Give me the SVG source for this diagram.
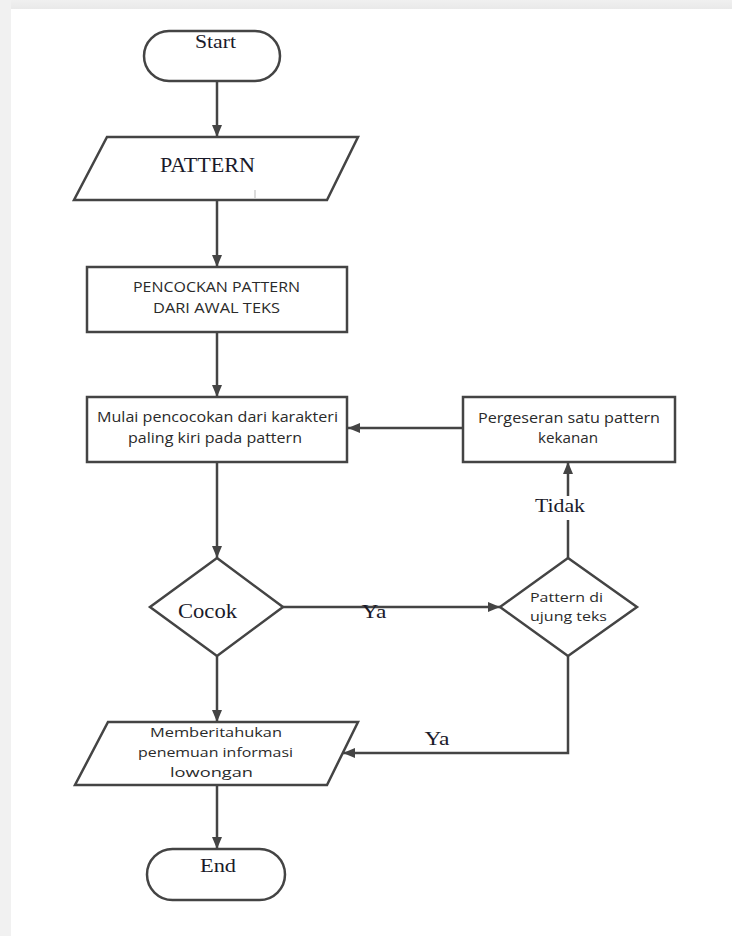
<svg xmlns="http://www.w3.org/2000/svg" width="732" height="936" viewBox="0 0 732 936">
  <defs>
    <style>
      .shape { fill: #ffffff; stroke: #444444; stroke-width: 2.5; stroke-linejoin: miter; }
      .conn { fill: none; stroke: #444444; stroke-width: 2.5; }
      .serif { font-family: "Liberation Serif", "DejaVu Serif", serif; fill: #1a1a2a; text-anchor: middle; }
      .sans { font-family: "Open Sans", "Liberation Sans", sans-serif; fill: #2a2a2a; text-anchor: middle; }
    </style>
    <marker id="arrow" viewBox="0 0 12 10" refX="12" refY="5" markerWidth="12" markerHeight="10" markerUnits="userSpaceOnUse" orient="auto">
      <path d="M0,0 L12,5 L0,10 Z" fill="#444444"/>
    </marker>
    <linearGradient id="topband" x1="0" y1="0" x2="0" y2="1">
      <stop offset="0" stop-color="#f0f0f0"/>
      <stop offset="1" stop-color="#e9e9e9"/>
    </linearGradient>
  </defs>

  <rect x="0" y="0" width="732" height="936" fill="#ffffff"/>
  <rect x="0" y="0" width="732" height="9" fill="url(#topband)"/>
  <rect x="0" y="0" width="11" height="936" fill="#f1f1f1"/>

  <g id="connectors">
    <path class="conn" d="M217,81 V137" marker-end="url(#arrow)"/>
    <path class="conn" d="M217,200 V267" marker-end="url(#arrow)"/>
    <path class="conn" d="M217,332 V397" marker-end="url(#arrow)"/>
    <path class="conn" d="M463,428 H348" marker-end="url(#arrow)"/>
    <path class="conn" d="M217,462 V558" marker-end="url(#arrow)"/>
    <path class="conn" d="M283,607 H500" marker-end="url(#arrow)"/>
    <path class="conn" d="M568,558 V520 M568,496 V462" marker-end="url(#arrow)"/>
    <path class="conn" d="M568,656 V753 H343" marker-end="url(#arrow)"/>
    <path class="conn" d="M217,656 V722" marker-end="url(#arrow)"/>
    <path class="conn" d="M217,785 V849" marker-end="url(#arrow)"/>
    <text class="serif" x="374" y="618" font-size="19" textLength="25" lengthAdjust="spacingAndGlyphs">Ya</text>
    <text class="serif" x="560" y="512" font-size="19" textLength="50" lengthAdjust="spacingAndGlyphs">Tidak</text>
    <text class="serif" x="437" y="745" font-size="19" textLength="25" lengthAdjust="spacingAndGlyphs">Ya</text>
  </g>

  <g id="start">
    <rect class="shape" x="144" y="31" width="136" height="50" rx="25" ry="25"/>
    <text class="serif" x="215.5" y="48" font-size="19" textLength="41" lengthAdjust="spacingAndGlyphs">Start</text>
  </g>

  <g id="pattern">
    <polygon class="shape" points="107,137 358,137 327,200 74,200"/>
    <text class="serif" x="207.5" y="172" font-size="21" textLength="95" lengthAdjust="spacingAndGlyphs">PATTERN</text>
    <line x1="255" y1="190" x2="255" y2="199" stroke="#cfcfcf" stroke-width="1.5"/>
  </g>

  <g id="pencocokan">
    <rect class="shape" x="87" y="267" width="260" height="65"/>
    <text class="sans" x="216.5" y="292" font-size="14.5" textLength="167" lengthAdjust="spacingAndGlyphs">PENCOCKAN PATTERN</text>
    <text class="sans" x="216.5" y="313" font-size="14.5" textLength="127" lengthAdjust="spacingAndGlyphs">DARI AWAL TEKS</text>
  </g>

  <g id="mulai">
    <rect class="shape" x="87" y="397" width="260" height="65"/>
    <text class="sans" x="217.5" y="422" font-size="14.5" textLength="241" lengthAdjust="spacingAndGlyphs">Mulai pencocokan dari karakteri</text>
    <text class="sans" x="215" y="443" font-size="14.5" textLength="174" lengthAdjust="spacingAndGlyphs">paling kiri pada pattern</text>
  </g>

  <g id="pergeseran">
    <rect class="shape" x="463" y="397" width="212" height="65"/>
    <text class="sans" x="569" y="423" font-size="14.5" textLength="182" lengthAdjust="spacingAndGlyphs">Pergeseran satu pattern</text>
    <text class="sans" x="568" y="443" font-size="14.5" textLength="60" lengthAdjust="spacingAndGlyphs">kekanan</text>
  </g>

  <g id="cocok">
    <polygon class="shape" points="217,558 283,607 217,656 150,607"/>
    <text class="serif" x="207.5" y="618" font-size="20" textLength="59" lengthAdjust="spacingAndGlyphs">Cocok</text>
  </g>

  <g id="ujung">
    <polygon class="shape" points="568,558 637,607 568,656 500,607"/>
    <text class="sans" x="566.5" y="602" font-size="13.5" textLength="73" lengthAdjust="spacingAndGlyphs">Pattern di</text>
    <text class="sans" x="568.5" y="621" font-size="13.5" textLength="77" lengthAdjust="spacingAndGlyphs">ujung teks</text>
  </g>

  <g id="memberitahukan">
    <polygon class="shape" points="108,722 358,722 327,785 75,785"/>
    <text class="sans" x="216" y="737" font-size="13.5" textLength="132" lengthAdjust="spacingAndGlyphs">Memberitahukan</text>
    <text class="sans" x="215.5" y="757" font-size="13.5" textLength="155" lengthAdjust="spacingAndGlyphs">penemuan informasi</text>
    <text class="sans" x="211.5" y="777" font-size="13.5" textLength="83" lengthAdjust="spacingAndGlyphs">lowongan</text>
  </g>

  <g id="end">
    <rect class="shape" x="147" y="849" width="138" height="51" rx="25.5" ry="25.5"/>
    <text class="serif" x="218" y="872" font-size="19" textLength="36" lengthAdjust="spacingAndGlyphs">End</text>
  </g>
</svg>
